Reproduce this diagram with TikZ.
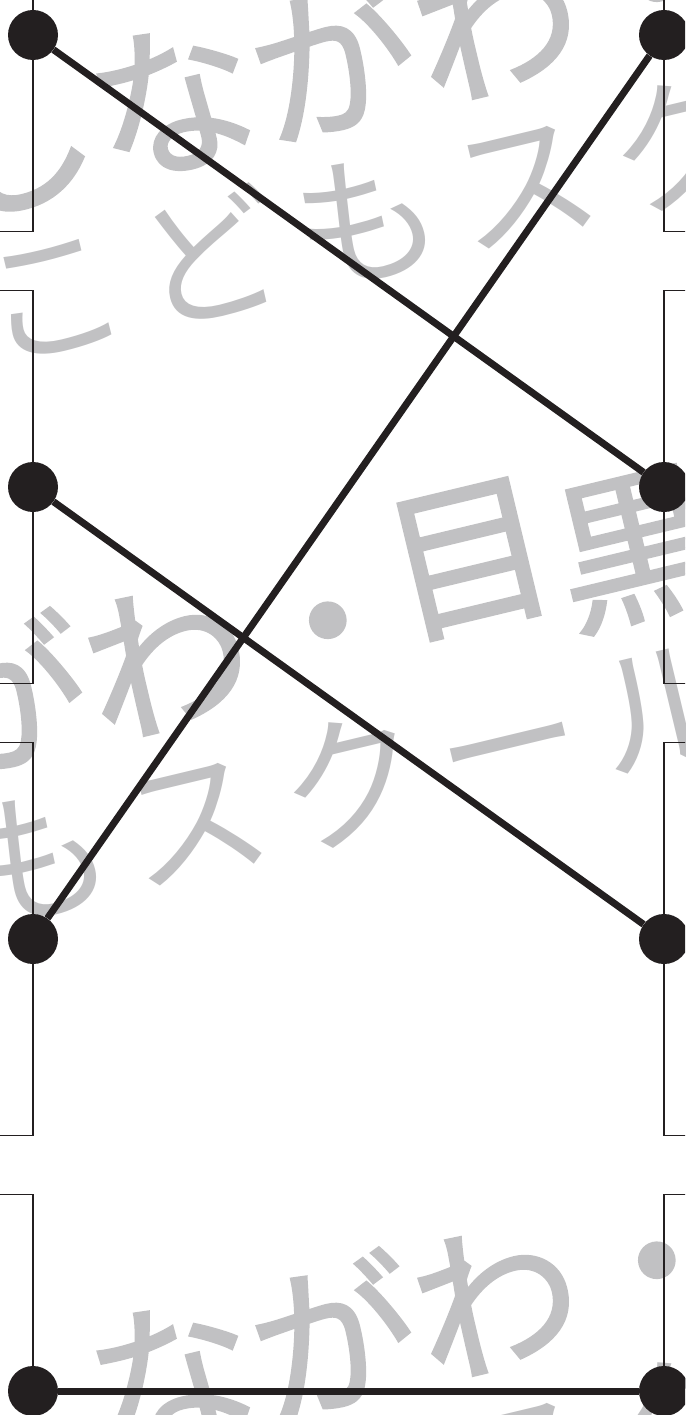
\documentclass[tikz,border=0pt]{standalone}
\usepackage{fontspec}
\newfontfamily\jpfont[FakeBold=1.5]{Noto Sans CJK JP}
\newfontfamily\jpfontsub[LetterSpace=11.4]{Noto Sans CJK JP}
\definecolor{ink}{HTML}{231F20}
\definecolor{wmgray}{HTML}{C1C1C3}

\begin{document}
\begin{tikzpicture}[
  x=1pt, y=-1pt,
  dot/.style={circle, fill=ink, inner sep=0pt, minimum size=50pt},
  link/.style={draw=ink, line width=7pt},
  frame/.style={draw=ink, line width=1.3pt},
  wmark/.style={text=wmgray, font=\jpfont\fontsize{166}{170}\selectfont, anchor=base west, rotate=13.5, inner sep=0pt},
  wmsub/.style={wmark, font=\jpfontsub\fontsize{145}{150}\selectfont}
]
\useasboundingbox (0,0) rectangle (685,1415);
\clip (0,0) rectangle (685,1415);
% watermark
\foreach \bx/\by [count=\k] in {-55/219, -384/856, -55/1496} {
  \begin{scope}[shift={(\bx,\by)}]
    \node[wmark] (wmtop\k) at (0,0) {しながわ・\kern-14pt\raisebox{31pt}{目}黒};
    \node[wmsub] (wmbot\k) at (49,146) {こどもスクール};
  \end{scope}
}
% boxes and dots
\foreach \i in {0,...,3} {
  \pgfmathsetmacro\cy{35+452*\i}
  \draw[frame] (-20,\cy-196.5) rectangle (33,\cy+196.5);
  \draw[frame] (664,\cy-196.5) rectangle (710,\cy+196.5);
  \node[dot] (L\i) at (33,\cy) {};
  \node[dot] (R\i) at (664,\cy) {};
}
% matching lines
\draw[link] (L0) -- (R1);
\draw[link] (R0) -- (L2);
\draw[link] (L1) -- (R2);
\draw[link] (L3) -- (R3);
\end{tikzpicture}
\end{document}
